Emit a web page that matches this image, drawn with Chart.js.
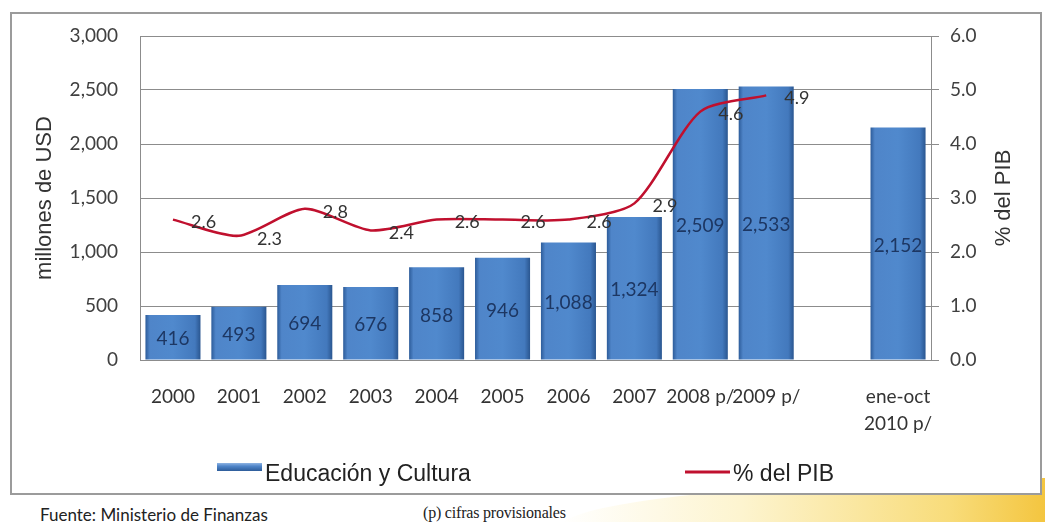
<!DOCTYPE html>
<html>
<head>
<meta charset="utf-8">
<script src="https://cdn.jsdelivr.net/npm/chart.js@4.4.0/dist/chart.umd.min.js"></script>
<style>
  html, body { margin: 0; padding: 0; background: #fff; }
  body { width: 1045px; height: 522px; position: relative; overflow: hidden; }
  #swoosh {
    position: absolute; left: 560px; top: 478px; width: 520px; height: 60px;
    border-top-left-radius: 520px 50px;
    background: linear-gradient(90deg, rgba(255,252,235,0) 0%, #fdf4cf 35%, #f8dc7a 75%, #f2bd2a 100%);
  }
  #frame {
    position: absolute; left: 10px; top: 12px; width: 1028px; height: 479px;
    border: 2px solid #9b9b9b; background: #fff;
  }
  #wrap { position: absolute; left: 0; top: 0; width: 1045px; height: 492px; }
  .foot { position: absolute; color: #222; white-space: nowrap; }
  #src { left: 40px; top: 504px; font: 17px Lato, "Open Sans", sans-serif; }
  #note { left: 423px; top: 504px; font: 16px "Liberation Serif", serif; letter-spacing: -0.2px; }
</style>
</head>
<body>
<div id="swoosh"></div>
<div id="frame"></div>
<div id="wrap"><canvas id="chart"></canvas></div>
<div class="foot" id="src">Fuente: Ministerio de Finanzas</div>
<div class="foot" id="note">(p) cifras provisionales</div>
<script>
// categories (empty slot before the 2010 column, as in the original)
const categories = ['2000', '2001', '2002', '2003', '2004', '2005', '2006', '2007',
    '2008 p/', '2009 p/', '', ['ene-oct', '2010 p/']];
// millones de USD
const gastoEducacion = [416, 493, 694, 676, 858, 946, 1088, 1324, 2509, 2533, null, 2152];
// % del PIB
const pctPIB = [2.6, 2.3, 2.8, 2.4, 2.6, 2.6, 2.6, 2.9, 4.6, 4.9, null, null];

const BAR_PCT = 0.835;
const RED = '#c0102e';

function barFill(c) {
    const chart = c.chart;
    const xs = chart.scales && chart.scales.x;
    if (!xs || c.type !== 'data' || !xs.width) return '#4f81bd';
    const cx = xs.getPixelForValue(c.dataIndex);
    const half = xs.width / categories.length * BAR_PCT / 2;
    const g = chart.ctx.createLinearGradient(cx - half, 0, cx + half, 0);
    g.addColorStop(0, '#2d5c9a');
    g.addColorStop(0.08, '#4f85c9');
    g.addColorStop(0.5, '#5089cd');
    g.addColorStop(0.9, '#4379bd');
    g.addColorStop(1, '#2a5690');
    return g;
}

// value labels for bars and line, drawn after datasets
const valueLabels = {
    id: 'valueLabels',
    afterDatasetsDraw(chart) {
        const ctx = chart.ctx;
        ctx.save();
        const bars = chart.getDatasetMeta(0);
        ctx.font = '19px Lato, sans-serif';
        ctx.fillStyle = '#1d3763';
        ctx.textAlign = 'center';
        ctx.textBaseline = 'middle';
        bars.data.forEach((el, i) => {
            const v = gastoEducacion[i];
            if (v == null) return;
            ctx.fillText(v.toLocaleString('en-US'), el.x, (el.y + el.base) / 2 + 2);
        });
        const line = chart.getDatasetMeta(1);
        ctx.font = '18px Lato, sans-serif';
        ctx.fillStyle = '#333';
        ctx.textAlign = 'left';
        line.data.forEach((el, i) => {
            const v = pctPIB[i];
            if (v == null) return;
            ctx.fillText(v.toFixed(1), el.x + 18, el.y + 3);
        });
        ctx.restore();
    }
};

// right axis title (reads bottom to top) and legend row
const extras = {
    id: 'extras',
    afterDraw(chart) {
        const ctx = chart.ctx;
        const area = chart.chartArea;
        ctx.save();
        ctx.font = '22px "Liberation Sans", Arial, sans-serif';
        ctx.fillStyle = '#333';
        ctx.textAlign = 'center';
        ctx.textBaseline = 'middle';
        ctx.translate(1004, (area.top + area.bottom) / 2);
        ctx.rotate(-Math.PI / 2);
        ctx.fillText('% del PIB', 0, 0);
        ctx.restore();

        ctx.save();
        const ds = chart.data.datasets;
        const g = ctx.createLinearGradient(0, 463, 0, 471);
        g.addColorStop(0, '#8fb4e3');
        g.addColorStop(0.4, '#4f85c9');
        g.addColorStop(1, '#2d5c9a');
        ctx.fillStyle = g;
        ctx.fillRect(217, 463, 45, 8);
        ctx.font = '23px "Liberation Sans", Arial, sans-serif';
        ctx.fillStyle = '#222';
        ctx.textAlign = 'left';
        ctx.textBaseline = 'alphabetic';
        ctx.fillText(ds[0].label, 265, 481);
        ctx.strokeStyle = ds[1].borderColor;
        ctx.lineWidth = 3;
        ctx.beginPath();
        ctx.moveTo(685, 472);
        ctx.lineTo(730, 472);
        ctx.stroke();
        ctx.fillText(ds[1].label, 733, 481);
        ctx.restore();
    }
};

const tickFont = { family: 'Lato, sans-serif', size: 19 };
const gridColor = '#8c8c8c';

new Chart(document.getElementById('chart'), {
    data: {
        labels: categories,
        datasets: [{
            type: 'bar',
            label: 'Educación y Cultura',
            data: gastoEducacion,
            backgroundColor: barFill,
            barPercentage: BAR_PCT,
            categoryPercentage: 1,
            yAxisID: 'y',
            order: 2
        }, {
            type: 'line',
            label: '% del PIB',
            data: pctPIB,
            borderColor: RED,
            borderWidth: 2.5,
            pointRadius: 0,
            tension: 0.25,
            yAxisID: 'y1',
            order: 1
        }]
    },
    options: {
        responsive: true,
        maintainAspectRatio: false,
        animation: false,
        layout: { padding: { top: 36, left: 0, right: 0, bottom: 0 } },
        plugins: {
            legend: { display: false },
            tooltip: { enabled: false }
        },
        scales: {
            x: {
                offset: true,
                grid: { display: false, drawTicks: false },
                border: { display: false },
                ticks: {
                    color: '#333',
                    font: { ...tickFont, lineHeight: 1.45 },
                    padding: 23,
                    maxRotation: 0,
                    autoSkip: false
                },
                afterFit: s => { s.height = 132; }
            },
            y: {
                position: 'left',
                min: 0,
                max: 3000,
                grid: { color: gridColor, lineWidth: 1, drawTicks: false },
                border: { display: true, color: gridColor, width: 1 },
                ticks: {
                    stepSize: 500,
                    color: '#404040',
                    font: tickFont,
                    padding: 22,
                    callback: v => v.toLocaleString('en-US')
                },
                title: {
                    display: true,
                    text: 'millones de USD',
                    color: '#333',
                    font: { family: '"Liberation Sans", Arial, sans-serif', size: 22 },
                    padding: { top: 32, bottom: 0 }
                },
                afterFit: s => { s.width = 140; }
            },
            y1: {
                position: 'right',
                min: 0,
                max: 6,
                grid: { drawOnChartArea: false, color: gridColor, tickLength: 8 },
                border: { display: true, color: gridColor, width: 1 },
                ticks: {
                    stepSize: 1,
                    color: '#404040',
                    font: tickFont,
                    padding: 11,
                    callback: v => v.toFixed(1)
                },
                afterFit: s => { s.width = 114; }
            }
        }
    },
    plugins: [valueLabels, extras]
});
</script>
</body>
</html>
